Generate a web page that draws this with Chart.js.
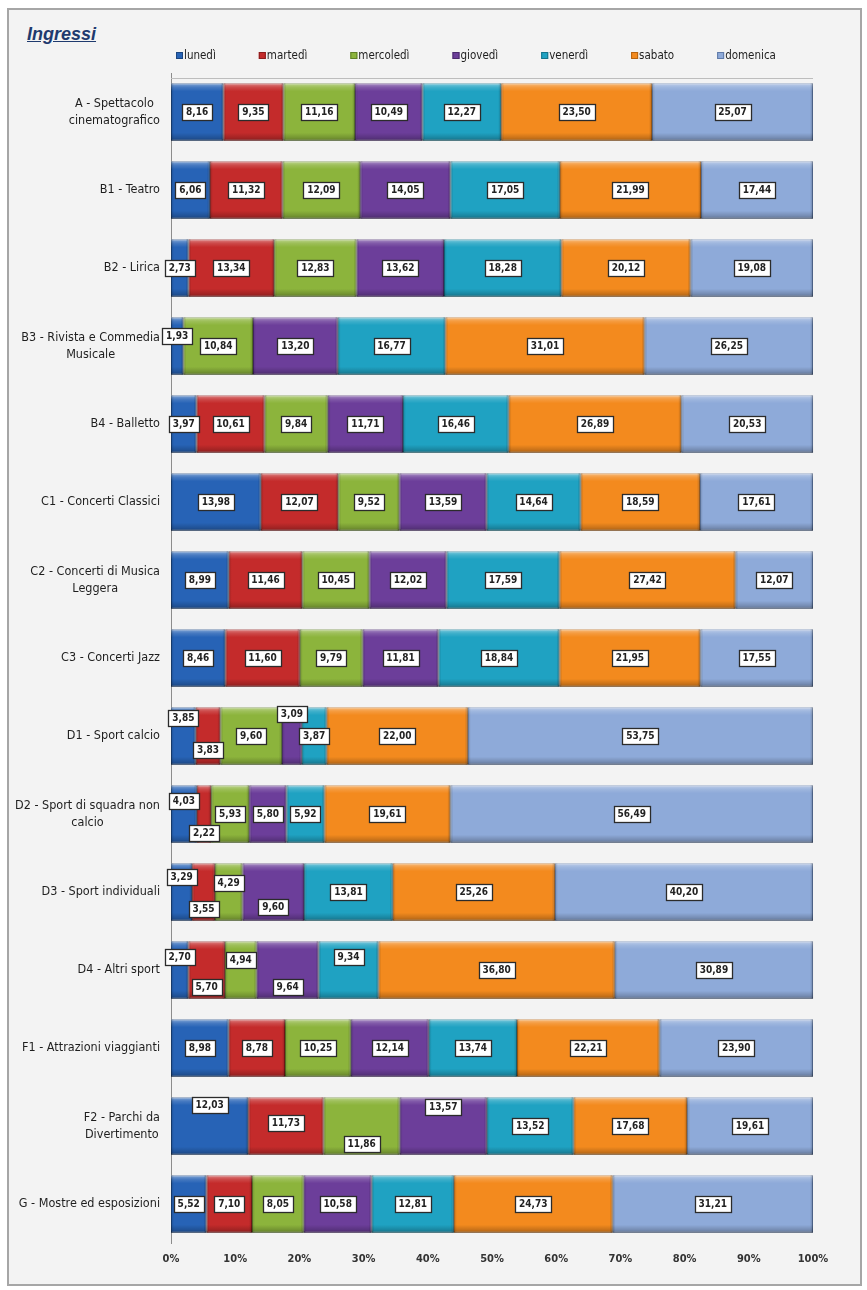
<!DOCTYPE html>
<html>
<head>
<meta charset="utf-8">
<script src="https://cdn.jsdelivr.net/npm/chart.js@4"></script>
<style>
  html, body { margin: 0; padding: 0; background: #ffffff; }
  #frame {
    position: absolute; left: 7px; top: 8px; width: 851px; height: 1274px;
    border: 2px solid #a6a6a6; background: #f3f3f3;
  }
  #title {
    position: absolute; left: 27px; top: 24px;
    font: italic bold 18px "Liberation Sans", Arial, sans-serif;
    color: #1f3a6e; text-decoration: underline;
  }
  #wrap { position: absolute; left: 0; top: 0; width: 867px; height: 1290px; }
</style>
</head>
<body>
<div id="frame"></div>
<div id="title">Ingressi</div>
<div id="wrap"><canvas id="chart" width="867" height="1290"></canvas></div>
<script>
"use strict";

const categories = [
  ["A - Spettacolo", "cinematografico"],
  ["B1 - Teatro"],
  ["B2 - Lirica"],
  ["B3 - Rivista e Commedia", "Musicale"],
  ["B4 - Balletto"],
  ["C1 - Concerti Classici"],
  ["C2 - Concerti di Musica", "Leggera"],
  ["C3 - Concerti Jazz"],
  ["D1 - Sport calcio"],
  ["D2 - Sport di squadra non", "calcio"],
  ["D3 - Sport individuali"],
  ["D4 - Altri sport"],
  ["F1 - Attrazioni viaggianti"],
  ["F2 - Parchi da", "Divertimento"],
  ["G - Mostre ed esposizioni"],
];

const seriesNames = ["lunedì", "martedì", "mercoledì", "giovedì", "venerdì", "sabato", "domenica"];

const lunedi    = [8.16, 6.06, 2.73, 1.93, 3.97, 13.98, 8.99, 8.46, 3.85, 4.03, 3.29, 2.70, 8.98, 12.03, 5.52];
const martedi   = [9.35, 11.32, 13.34, 0, 10.61, 12.07, 11.46, 11.60, 3.83, 2.22, 3.55, 5.70, 8.78, 11.73, 7.10];
const mercoledi = [11.16, 12.09, 12.83, 10.84, 9.84, 9.52, 10.45, 9.79, 9.60, 5.93, 4.29, 4.94, 10.25, 11.86, 8.05];
const giovedi   = [10.49, 14.05, 13.62, 13.20, 11.71, 13.59, 12.02, 11.81, 3.09, 5.80, 9.60, 9.64, 12.14, 13.57, 10.58];
const venerdi   = [12.27, 17.05, 18.28, 16.77, 16.46, 14.64, 17.59, 18.84, 3.87, 5.92, 13.81, 9.34, 13.74, 13.52, 12.81];
const sabato    = [23.50, 21.99, 20.12, 31.01, 26.89, 18.59, 27.42, 21.95, 22.00, 19.61, 25.26, 36.80, 22.21, 17.68, 24.73];
const domenica  = [25.07, 17.44, 19.08, 26.25, 20.53, 17.61, 12.07, 17.55, 53.75, 56.49, 40.20, 30.89, 23.90, 19.61, 31.21];

const xTicks = [0, 10, 20, 30, 40, 50, 60, 70, 80, 90, 100];

const seriesValues = [lunedi, martedi, mercoledi, giovedi, venerdi, sabato, domenica];
const seriesColors = ["#2763b6", "#c42b2b", "#8cb43c", "#6c3e9a", "#1fa2c2", "#f38a1e", "#8eaad9"];
const seriesBorders = ["#1b4680", "#8a1c1c", "#5f7f27", "#4a2a6c", "#15738a", "#b5620f", "#5f7aa8"];

// vertical nudges (px) for crowded labels: [category][series]
const labelShift = {
  3: [-10, 0, 0, 0, 0, 0, 0],
  8: [-18, 14, 0, -22, 0, 0, 0],
  9: [-13, 19, 0, 0, 0, 0, 0],
  10: [-15, 17, -9, 15, 0, 0, 0],
  11: [-13, 17, -10, 17, -13, 0, 0],
  13: [-21, -3, 18, -19, 0, 0, 0],
};

const NARROW = '"Liberation Sans Narrow", "DejaVu Sans Condensed", Arial, sans-serif';

function fmt(v) {
  return v.toFixed(2).replace(".", ",");
}

const bevelPlugin = {
  id: "bevel",
  afterDatasetsDraw(chart) {
    const ctx = chart.ctx;
    chart.data.datasets.forEach((ds, di) => {
      chart.getDatasetMeta(di).data.forEach((bar) => {
        const left = Math.min(bar.base, bar.x);
        const w = Math.abs(bar.x - bar.base);
        if (w < 0.5) return;
        const top = bar.y - bar.height / 2;
        const h = bar.height;
        const g = ctx.createLinearGradient(0, top, 0, top + h);
        g.addColorStop(0, "rgba(255,255,255,0.45)");
        g.addColorStop(0.07, "rgba(255,255,255,0.15)");
        g.addColorStop(0.14, "rgba(255,255,255,0)");
        g.addColorStop(0.86, "rgba(0,0,0,0)");
        g.addColorStop(0.95, "rgba(0,0,0,0.18)");
        g.addColorStop(1, "rgba(0,0,0,0.35)");
        ctx.save();
        ctx.fillStyle = g;
        ctx.fillRect(left, top, w, h);
        const sg = ctx.createLinearGradient(left, 0, left + w, 0);
        const e = Math.min(0.5, 3 / w);
        sg.addColorStop(0, "rgba(0,0,0,0.2)");
        sg.addColorStop(e, "rgba(0,0,0,0)");
        sg.addColorStop(1 - e, "rgba(0,0,0,0)");
        sg.addColorStop(1, "rgba(0,0,0,0.25)");
        ctx.fillStyle = sg;
        ctx.fillRect(left, top, w, h);
        ctx.restore();
      });
    });
  },
};

const boxLabelPlugin = {
  id: "boxLabels",
  afterDatasetsDraw(chart) {
    const ctx = chart.ctx;
    ctx.save();
    ctx.font = "bold 10px " + NARROW;
    ctx.textAlign = "center";
    ctx.textBaseline = "middle";
    chart.data.datasets.forEach((ds, di) => {
      chart.getDatasetMeta(di).data.forEach((bar, i) => {
        const v = ds.data[i];
        if (!v) return;
        const txt = fmt(v);
        const cx = (bar.x + bar.base) / 2;
        const cy = bar.y + (labelShift[i] ? labelShift[i][di] : 0);
        const tw = ctx.measureText(txt).width;
        const bw = Math.round(tw + 8);
        const bh = 16;
        const bx = Math.round(cx - bw / 2) + 0.5;
        const by = Math.round(cy - bh / 2) + 0.5;
        ctx.fillStyle = "#ffffff";
        ctx.fillRect(bx, by, bw, bh);
        ctx.strokeStyle = "#2b2b2b";
        ctx.lineWidth = 1.3;
        ctx.strokeRect(bx, by, bw, bh);
        ctx.fillStyle = "#222222";
        ctx.fillText(txt, cx, cy + 0.5);
      });
    });
    ctx.restore();
  },
};

const categoryLabelPlugin = {
  id: "categoryLabels",
  afterDraw(chart) {
    const ctx = chart.ctx;
    const yScale = chart.scales.y;
    const right = chart.chartArea.left - 11;
    const lineH = 17;
    ctx.save();
    ctx.font = "12.5px " + NARROW;
    ctx.fillStyle = "#1e1e1e";
    ctx.textAlign = "center";
    ctx.textBaseline = "middle";
    categories.forEach((lines, i) => {
      const y = yScale.getPixelForValue(i);
      const blockW = Math.max(...lines.map((l) => ctx.measureText(l).width));
      const cx = right - blockW / 2;
      const y0 = y - ((lines.length - 1) * lineH) / 2;
      lines.forEach((l, k) => ctx.fillText(l, cx, y0 + k * lineH));
    });
    ctx.restore();
  },
};

const legendPlugin = {
  id: "customLegend",
  afterDraw(chart) {
    const ctx = chart.ctx;
    let x = 176;
    const y = 56;
    ctx.save();
    ctx.font = "11.5px " + NARROW;
    ctx.textBaseline = "middle";
    ctx.textAlign = "left";
    chart.data.datasets.forEach((ds, di) => {
      ctx.fillStyle = seriesColors[di];
      ctx.fillRect(x, y - 4, 7, 7);
      ctx.strokeStyle = seriesBorders[di];
      ctx.lineWidth = 1;
      ctx.strokeRect(x + 0.5, y - 3.5, 6, 6);
      ctx.fillStyle = "#1e1e1e";
      ctx.fillText(ds.label, x + 8, y);
      x += 8 + ctx.measureText(ds.label).width + 43;
    });
    ctx.restore();
  },
};

const topLinePlugin = {
  id: "topLine",
  beforeDatasetsDraw(chart) {
    const { ctx, chartArea } = chart;
    ctx.save();
    ctx.strokeStyle = "#bdbdbd";
    ctx.lineWidth = 1;
    ctx.beginPath();
    ctx.moveTo(chartArea.left, chartArea.top + 5.5);
    ctx.lineTo(chartArea.right, chartArea.top + 5.5);
    ctx.stroke();
    ctx.restore();
  },
};

new Chart(document.getElementById("chart"), {
  type: "bar",
  data: {
    labels: categories.map((c) => c.join(" ")),
    datasets: seriesNames.map((name, di) => ({
      label: name,
      data: seriesValues[di],
      backgroundColor: seriesColors[di],
      borderColor: seriesBorders[di],
      borderWidth: 1,
      borderSkipped: false,
      barPercentage: 0.74,
      categoryPercentage: 1,
    })),
  },
  options: {
    indexAxis: "y",
    responsive: false,
    devicePixelRatio: 1,
    animation: false,
    layout: { padding: { left: 171, right: 54, top: 73, bottom: 17 } },
    plugins: {
      legend: { display: false },
      tooltip: { enabled: false },
    },
    scales: {
      x: {
        stacked: true,
        min: 0,
        max: 100,
        afterBuildTicks(axis) {
          axis.ticks = xTicks.map((v) => ({ value: v }));
        },
        afterFit(axis) {
          axis.height = 30;
        },
        grid: { display: false, drawTicks: false },
        border: { display: false },
        ticks: {
          padding: 10,
          color: "#333333",
          font: { family: NARROW, size: 11, weight: "bold" },
          callback: (v) => v + "%",
        },
      },
      y: {
        stacked: true,
        grid: { display: false, drawTicks: false },
        border: { display: true, color: "#8c8c8c", width: 1 },
        ticks: { display: false },
      },
    },
  },
  plugins: [topLinePlugin, bevelPlugin, boxLabelPlugin, categoryLabelPlugin, legendPlugin],
});
</script>
</body>
</html>
